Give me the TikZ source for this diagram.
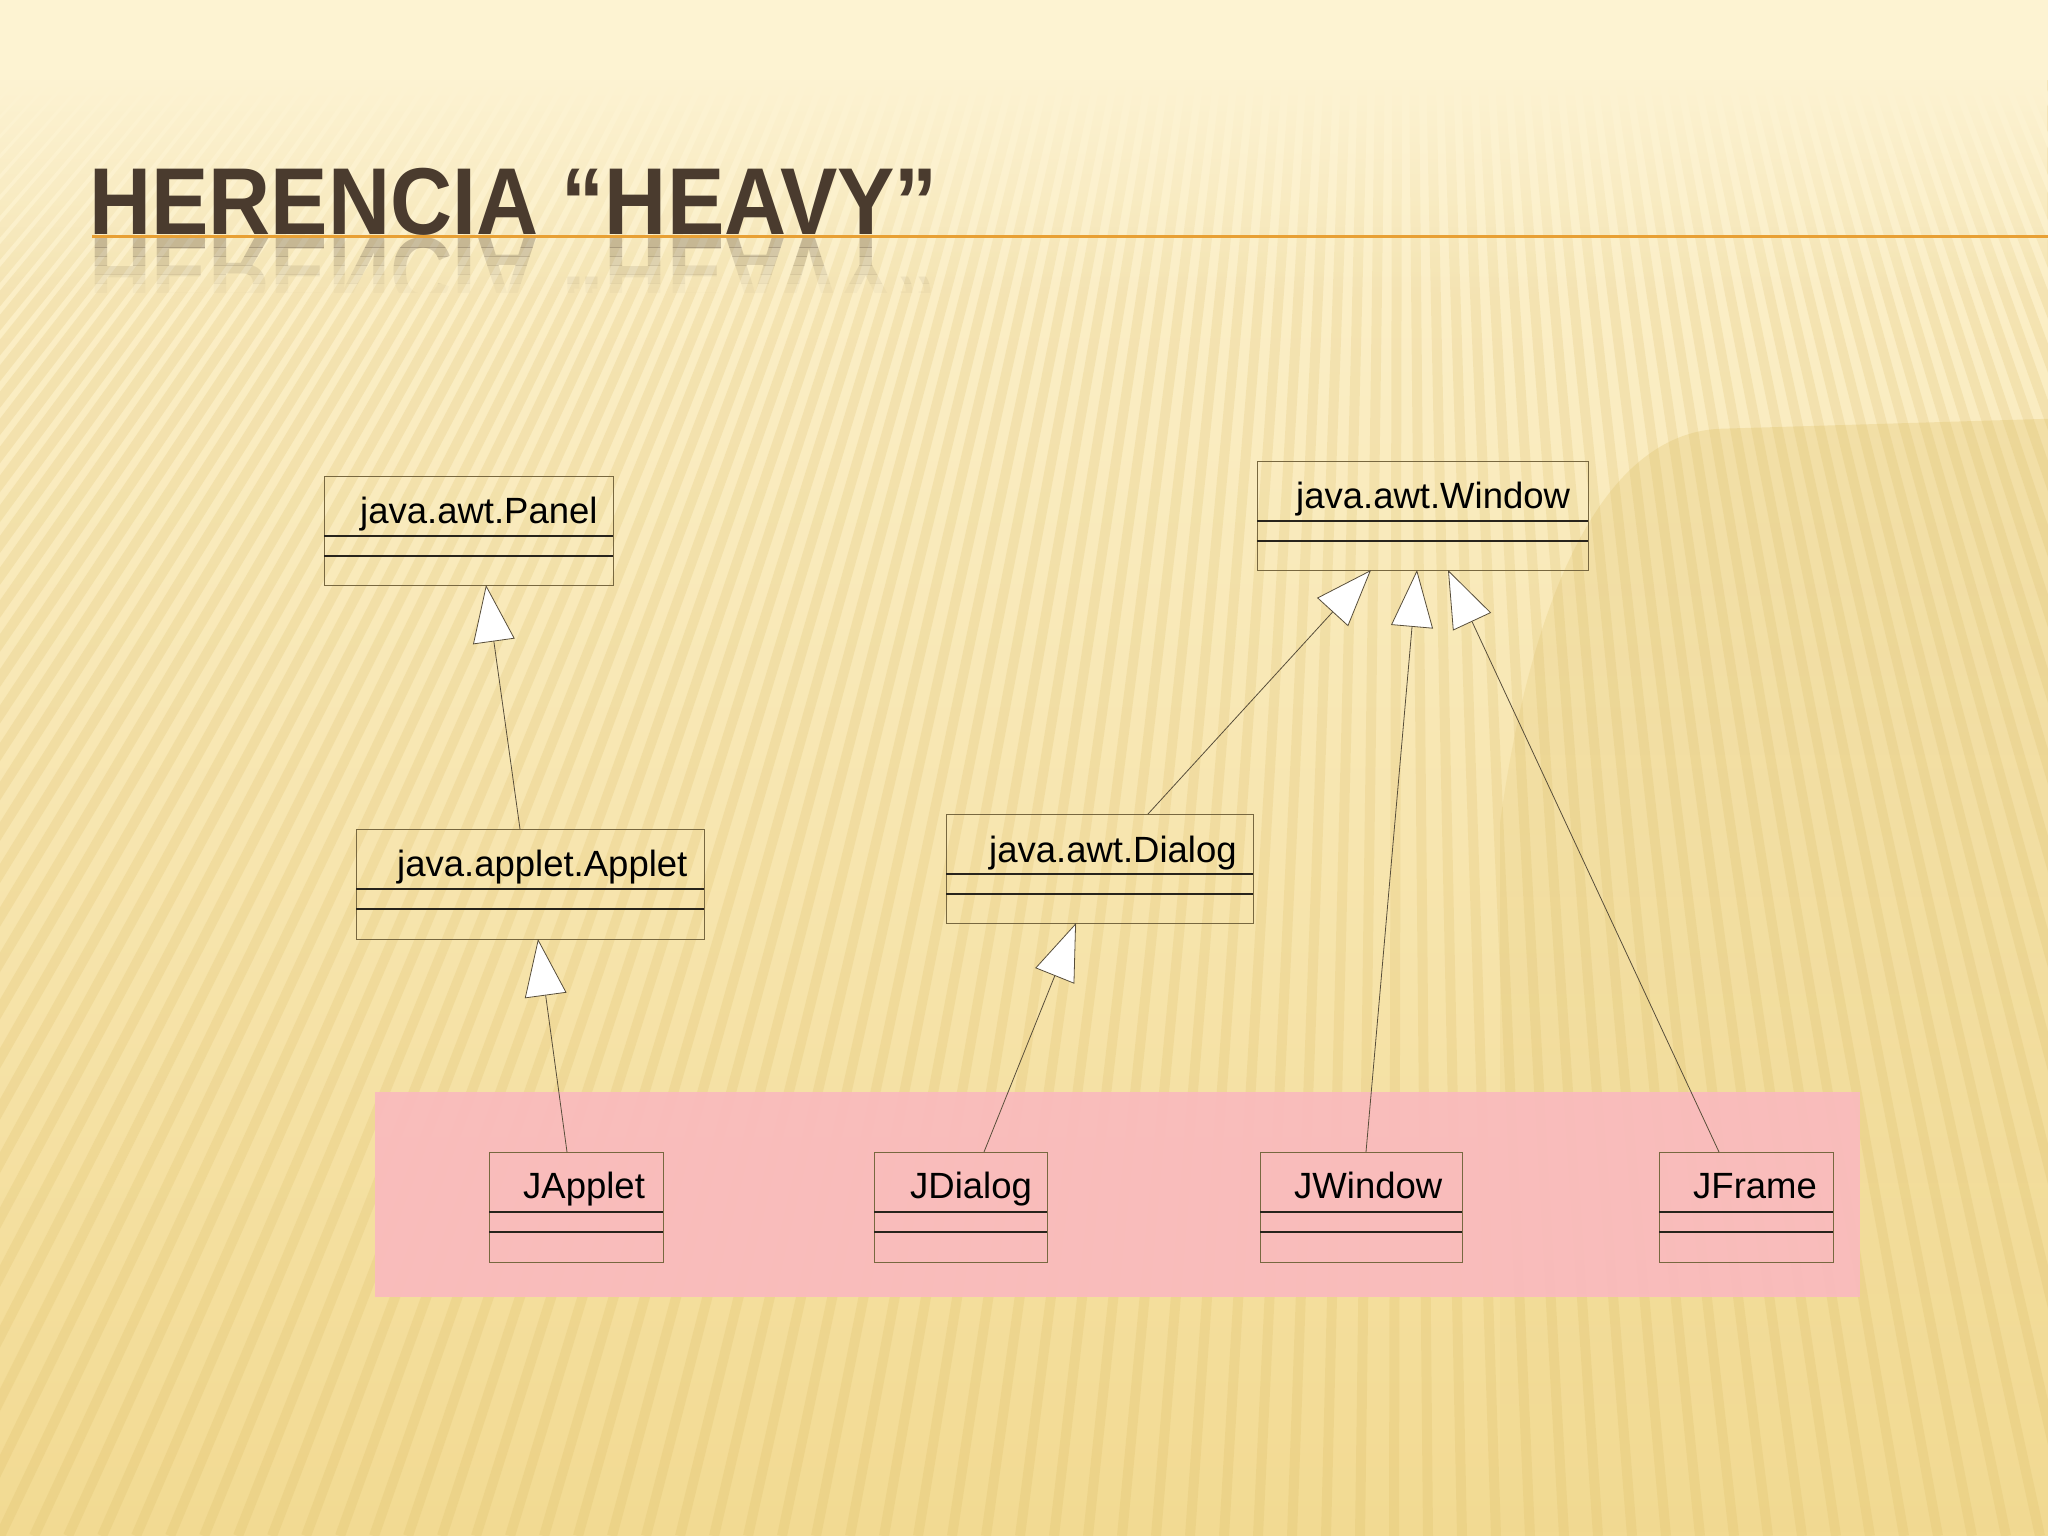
\documentclass[tikz,border=0pt]{standalone}
\usepackage{fontspec}
\setmainfont{Liberation Sans}
\usetikzlibrary{arrows.meta,calc,fadings}
\definecolor{bgtop}{RGB}{253,243,210}
\definecolor{bgmid}{RGB}{249,233,178}
\definecolor{bgbot}{RGB}{242,218,146}
\definecolor{stripec}{RGB}{214,180,88}
\definecolor{blobc}{RGB}{222,190,100}
\definecolor{titlec}{RGB}{74,59,46}
\definecolor{rulec}{RGB}{232,160,52}
\definecolor{pinkc}{RGB}{250,186,190}
\definecolor{boxc}{RGB}{120,104,64}
\definecolor{sepc}{RGB}{40,36,28}
\definecolor{linkc}{RGB}{88,78,58}
\tikzfading[name=coverfade, top color=transparent!0, bottom color=transparent!100]
\begin{document}
\begin{tikzpicture}[x=1pt,y=-1pt,
  umlbox/.style={draw=boxc, line width=1pt, rectangle, inner sep=0pt, outer sep=0pt, anchor=north west},
  clsname/.style={font=\fontsize{36.5}{40}\selectfont, text=black, inner sep=0pt, anchor=base west},
  sepline/.style={draw=sepc, line width=1.4pt},
  inherit/.style={draw=linkc, line width=0.8pt, -{Triangle[length=57pt,width=42pt,fill=white]}},
  stripe/.style={draw=stripec, line width=10pt, opacity=0.18},
  titlefont/.style={font=\bfseries\fontsize{95}{95}\selectfont, text=titlec, inner sep=0pt, anchor=base west}]
\useasboundingbox (0,0) rectangle (2048,1536);
% background
\shade[top color=bgtop, middle color=bgmid, bottom color=bgbot] (0,0) rectangle (2048,1536);
\begin{scope}
\clip (0,0) rectangle (2048,1536);
\fill[blobc, opacity=0.28, path fading=coverfade] (2048,415) -- (1720,425)
  .. controls (1600,430) and (1530,600) .. (1500,820) -- (1500,1536) -- (2048,1536) -- cycle;
\foreach \i in {-46,...,82} {
  \draw[stripe] (\i*34,1536) -- ($(\i*34,1536)!1.05!(1400,-1400)$);
}
\end{scope}
\fill[bgtop] (0,0) rectangle (2048,80);
\fill[bgtop, path fading=coverfade] (0,79) rectangle (2048,300);
% title
\draw[rulec, line width=3pt] (92,236) -- (2048,236);
\node[titlefont] (title) at (89,234) {\scalebox{0.905}[1]{HERENCIA “HEAVY”}};
\foreach \k/\o in {0/0.28,1/0.22,2/0.16,3/0.11,4/0.07,5/0.03} {
  \begin{scope}
  \clip (0,238+\k*9) rectangle (1000,247+\k*9);
  \node[titlefont, opacity=\o] (refl\k) at (89,238) {\scalebox{0.905}[-1]{HERENCIA “HEAVY”}};
  \end{scope}
}
% pink band
\fill[pinkc, opacity=0.92] (375,1092) rectangle (1860,1297);
% boxes
\node[umlbox, minimum width=289pt, minimum height=109pt] (panel) at (324,476) {};
\node[umlbox, minimum width=331pt, minimum height=109pt] (window) at (1257,461) {};
\node[umlbox, minimum width=348pt, minimum height=110pt] (applet) at (356,829) {};
\node[umlbox, minimum width=307pt, minimum height=109pt] (dialog) at (946,814) {};
\node[umlbox, minimum width=174pt, minimum height=110pt] (japplet) at (489,1152) {};
\node[umlbox, minimum width=173pt, minimum height=110pt] (jdialog) at (874,1152) {};
\node[umlbox, minimum width=202pt, minimum height=110pt] (jwindow) at (1260,1152) {};
\node[umlbox, minimum width=174pt, minimum height=110pt] (jframe) at (1659,1152) {};
\foreach \b in {panel,window,applet,dialog,japplet,jdialog,jwindow,jframe} {
  \draw[sepline] ($(\b.north west)+(0,60)$) -- ($(\b.north east)+(0,60)$);
  \draw[sepline] ($(\b.north west)+(0,80)$) -- ($(\b.north east)+(0,80)$);
}
% class names
\node[clsname] (panelt) at (360,523) {java.awt.Panel};
\node[clsname] (windowt) at (1296,508) {java.awt.Window};
\node[clsname] (applett) at (397,876) {java.applet.Applet};
\node[clsname] (dialogt) at (989,862) {java.awt.Dialog};
\node[clsname] (jappt) at (523,1198) {JApplet};
\node[clsname] (jdiat) at (910,1198) {JDialog};
\node[clsname] (jwint) at (1294,1198) {JWindow};
\node[clsname] (jfrat) at (1693,1198) {JFrame};
% connector ends
\coordinate (a1) at ($(applet.north west)+(164,0)$);
\coordinate (b1) at ($(panel.south west)+(162,0)$);
\coordinate (a2) at ($(japplet.north west)+(78,0)$);
\coordinate (b2) at ($(applet.south west)+(182,0)$);
\coordinate (a3) at ($(jdialog.north west)+(110,0)$);
\coordinate (b3) at ($(dialog.south west)+(130,0)$);
\coordinate (a4) at ($(dialog.north west)+(202,0)$);
\coordinate (b4) at ($(window.south west)+(114,0)$);
\coordinate (a5) at ($(jwindow.north west)+(106,0)$);
\coordinate (b5) at ($(window.south west)+(160,0)$);
\coordinate (a6) at ($(jframe.north west)+(60,0)$);
\coordinate (b6) at ($(window.south west)+(191,0)$);
\foreach \n in {1,...,6} { \draw[inherit] (a\n) -- (b\n); }
\end{tikzpicture}
\end{document}
